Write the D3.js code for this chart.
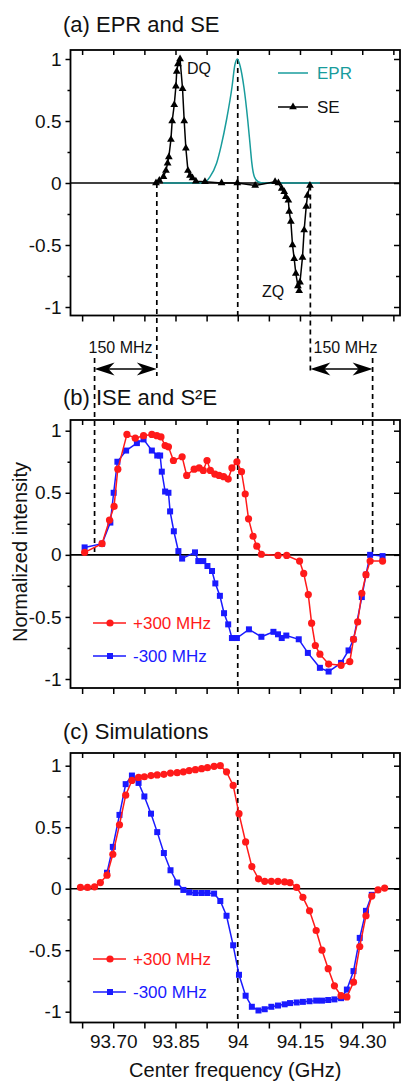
<!DOCTYPE html>
<html>
<head>
<meta charset="utf-8">
<title>EPR, SE, ISE and S2E</title>
<script src="https://d3js.org/d3.v7.min.js"></script>
<style>
  body { margin: 0; background: #fff; }
  text { font-family: "Liberation Sans", Arial, Helvetica, sans-serif; }
</style>
</head>
<body>
<script>

// ---- data, frequency in GHz, intensity normalized ----

// (a) EPR line
var eprFreq = [93.820, 93.900, 93.917, 93.933, 93.949, 93.960, 93.973, 93.986, 93.993, 93.999,
               94.006, 94.015, 94.024, 94.030, 94.034, 94.040, 94.049, 94.059, 94.198];
var eprVal  = [0, 0, 0, 0.05, 0.16, 0.30, 0.51, 0.77, 0.95, 1.0,
               0.94, 0.77, 0.51, 0.30, 0.16, 0.05, 0.01, 0, 0];

// (a) SE, triangles
var seFreq = [93.803, 93.811, 93.821, 93.827, 93.831, 93.834, 93.839, 93.842, 93.847, 93.851,
              93.853, 93.856, 93.861, 93.867, 93.871, 93.875, 93.880, 93.885, 93.891, 93.899,
              93.921, 93.961, 93.999, 94.042, 94.090, 94.098, 94.106, 94.112, 94.116, 94.122,
              94.124, 94.128, 94.132, 94.136, 94.140, 94.145, 94.148, 94.150, 94.156, 94.160,
              94.165, 94.168, 94.174];
var seVal  = [0, 0.02, 0.05, 0.10, 0.16, 0.21, 0.35, 0.50, 0.63, 0.78,
              0.90, 0.96, 1.0, 0.76, 0.50, 0.28, 0.10, 0.06, 0.04, 0.015,
              0.01, 0, 0, -0.02, 0.01, 0, -0.045, -0.07, -0.11, -0.14,
              -0.23, -0.31, -0.50, -0.61, -0.73, -0.83, -0.87, -0.80, -0.60, -0.38,
              -0.19, -0.10, -0.02];

// (b) ISE / S2E, +300 MHz (red)
var bPlusFreq = [93.631, 93.673, 93.691, 93.702, 93.711, 93.733, 93.753, 93.773, 93.793, 93.805,
                 93.815, 93.825, 93.833, 93.845, 93.866, 93.877, 93.895, 93.907, 93.917, 93.926,
                 93.934, 93.945, 93.955, 93.966, 93.977, 93.986, 93.998, 94.009, 94.018, 94.026,
                 94.037, 94.046, 94.057, 94.097, 94.118, 94.149, 94.159, 94.170, 94.178, 94.187,
                 94.198, 94.219, 94.249, 94.270, 94.279, 94.289, 94.299, 94.309, 94.319, 94.349];
var bPlusVal  = [0.02, 0.09, 0.28, 0.39, 0.69, 0.97, 0.94, 0.96, 0.97, 0.96,
                 0.95, 0.88, 0.87, 0.76, 0.79, 0.64, 0.69, 0.70, 0.68, 0.76,
                 0.68, 0.65, 0.64, 0.63, 0.61, 0.70, 0.75, 0.67, 0.49, 0.29,
                 0.15, 0.07, 0.005, -0.005, -0.005, -0.05, -0.15, -0.32, -0.55, -0.73,
                 -0.80, -0.88, -0.89, -0.86, -0.68, -0.54, -0.31, -0.16, -0.05, -0.05];

// (b) -300 MHz (blue)
var bMinusFreq = [93.631, 93.673, 93.693, 93.701, 93.710, 93.731, 93.757, 93.773, 93.793, 93.806,
                  93.813, 93.817, 93.825, 93.833, 93.837, 93.846, 93.857, 93.866, 93.897, 93.905,
                  93.917, 93.927, 93.938, 93.946, 93.957, 93.967, 93.977, 93.986, 93.998, 94.027,
                  94.057, 94.086, 94.097, 94.106, 94.117, 94.147, 94.169, 94.198, 94.219, 94.249,
                  94.267, 94.279, 94.299, 94.309, 94.319, 94.349];
var bMinusVal  = [0.06, 0.09, 0.26, 0.50, 0.75, 0.84, 0.90, 0.93, 0.84, 0.80,
                  0.80, 0.67, 0.51, 0.50, 0.35, 0.19, 0.03, -0.03, 0.02, -0.05,
                  -0.05, -0.09, -0.13, -0.23, -0.33, -0.47, -0.56, -0.67, -0.67, -0.60,
                  -0.66, -0.62, -0.64, -0.67, -0.65, -0.68, -0.79, -0.91, -0.94, -0.87,
                  -0.77, -0.68, -0.34, -0.16, 0.00, -0.01];

// (c) simulations, one frequency grid for both (null = not visible)
var simFreq  = [93.621, 93.638, 93.655, 93.669, 93.685, 93.699, 93.715, 93.730, 93.745, 93.761,
                93.775, 93.791, 93.806, 93.822, 93.838, 93.854, 93.869, 93.883, 93.898, 93.913,
                93.927, 93.943, 93.958, 93.973, 93.989, 94.003, 94.019, 94.034, 94.050, 94.065,
                94.081, 94.097, 94.113, 94.126, 94.142, 94.157, 94.173, 94.189, 94.203, 94.218,
                94.233, 94.249, 94.263, 94.279, 94.294, 94.309, 94.323, 94.338, 94.354];
var simPlus  = [0.01, 0.01, 0.015, 0.05, 0.11, 0.28, 0.52, 0.76, 0.88, 0.905,
                0.91, 0.92, 0.925, 0.93, 0.94, 0.943, 0.95, 0.96, 0.968, 0.976,
                0.984, 0.995, 1.0, 0.95, 0.84, 0.61, 0.38, 0.18, 0.08, 0.06,
                0.06, 0.06, 0.055, 0.05, 0.01, -0.07, -0.18, -0.34, -0.50, -0.65,
                -0.79, -0.87, -0.88, -0.76, -0.47, -0.22, -0.06, -0.01, 0.005];
var simMinus = [null, null, null, null, 0.13, 0.34, 0.60, 0.85, 0.92, 0.86,
                0.75, 0.61, 0.46, 0.29, 0.15, 0.05, -0.01, -0.03, -0.035, -0.035,
                -0.035, -0.04, -0.10, -0.22, -0.46, -0.70, -0.87, -0.96, -0.99, -0.98,
                -0.96, -0.95, -0.94, -0.93, -0.925, -0.92, -0.915, -0.91, -0.91, -0.905,
                -0.90, -0.89, -0.82, -0.67, -0.40, -0.18, -0.05, null, null];

// axis ticks
var xTicks = [93.625, 93.70, 93.775, 93.85, 93.925, 94.0, 94.075, 94.15, 94.225, 94.30, 94.375];
var xTickLabels = {"93.7": "93.70", "93.85": "93.85", "94": "94", "94.15": "94.15", "94.3": "94.30"};
var yMajor = [-1, -0.5, 0, 0.5, 1];
var yMajorLabels = ["-1", "-0.5", "0", "0.5", "1"];
var yMinor = [-0.75, -0.25, 0.25, 0.75];

// dashed markers (GHz): EPR centre, DQ and ZQ positions, 150 MHz away
var centreFreq = 94.0;
var dqFreq = 93.805;
var zqFreq = 94.175;
var shift = 0.15;

var red = "#ff1a1a", blue = "#1a1aff", teal = "#189c9c";

// ---- svg ----
var svg = d3.select("body").append("svg")
    .attr("width", 403)
    .attr("height", 1082);

var x = d3.scaleLinear().domain([93.597, 94.391]).range([70.5, 400]);
var left = x.range()[0], right = x.range()[1];

var panels = {
  a: { top: 50,  bottom: 315.5,  yr: [307, 59],      title: "(a) EPR and SE",    ty: 32 },
  b: { top: 420, bottom: 688,    yr: [679, 430.7],   title: "(b) ISE and S\u00B2E", ty: 405 },
  c: { top: 753, bottom: 1022.5, yr: [1011.7, 765.7], title: "(c) Simulations",   ty: 739 }
};

function styleAxis(g) {
  g.select(".domain").remove();
  g.selectAll("line").attr("stroke", "#000").attr("stroke-width", 1.5);
  g.selectAll("text").attr("font-size", 19).attr("fill", "#111")
    .attr("font-family", "'Liberation Sans', Arial, sans-serif");
}

function drawPanel(p, showXLabels) {
  var y = d3.scaleLinear().domain([-1, 1]).range(p.yr);
  p.y = y;

  // left axis, ticks outward
  svg.append("g").attr("transform", "translate(" + left + ",0)")
    .call(d3.axisLeft(y).tickValues(yMajor).tickSize(5).tickPadding(4)
      .tickFormat(function (d, i) { return yMajorLabels[i]; }))
    .call(styleAxis);
  svg.append("g").attr("transform", "translate(" + left + ",0)")
    .call(d3.axisLeft(y).tickValues(yMinor).tickSize(3).tickFormat(""))
    .call(styleAxis);

  // right side, ticks inward
  svg.append("g").attr("transform", "translate(" + right + ",0)")
    .call(d3.axisLeft(y).tickValues(yMajor).tickSize(6).tickFormat(""))
    .call(styleAxis);
  svg.append("g").attr("transform", "translate(" + right + ",0)")
    .call(d3.axisLeft(y).tickValues(yMinor).tickSize(4).tickFormat(""))
    .call(styleAxis);

  // top ticks inward
  svg.append("g").attr("transform", "translate(0," + p.top + ")")
    .call(d3.axisBottom(x).tickValues(xTicks).tickSize(5).tickFormat(""))
    .call(styleAxis);

  // bottom ticks outward
  svg.append("g").attr("transform", "translate(0," + p.bottom + ")")
    .call(d3.axisBottom(x).tickValues(xTicks).tickSize(6).tickPadding(6)
      .tickFormat(function (d) {
        if (!showXLabels) return "";
        var k = String(+d.toFixed(3));
        return xTickLabels[k] || "";
      }))
    .call(styleAxis);

  // zero line
  svg.append("line")
    .attr("x1", left).attr("x2", right)
    .attr("y1", y(0)).attr("y2", y(0))
    .attr("stroke", "#000").attr("stroke-width", 1.6);

  // frame
  svg.append("rect")
    .attr("x", left).attr("y", p.top)
    .attr("width", right - left).attr("height", p.bottom - p.top)
    .attr("fill", "none").attr("stroke", "#000").attr("stroke-width", 1.8);

  // title
  svg.append("text").attr("x", 63).attr("y", p.ty)
    .attr("font-size", 22).attr("fill", "#111").text(p.title);
}

drawPanel(panels.a, false);
drawPanel(panels.b, false);
drawPanel(panels.c, true);

// ---- dashed guide lines ----
var arrowY = 369;
var dashed = [
  [centreFreq, panels.a.top, panels.a.bottom],
  [centreFreq, panels.b.top, panels.b.bottom],
  [centreFreq, panels.c.top, panels.c.bottom],
  [dqFreq, panels.a.y(0), arrowY + 7],
  [dqFreq - shift, arrowY - 11, panels.b.y(0)],
  [zqFreq, panels.a.y(-0.02), arrowY + 5],
  [zqFreq + shift, arrowY - 11, panels.b.y(0)]
];
svg.append("g").selectAll("line").data(dashed).enter().append("line")
  .attr("x1", function (d) { return x(d[0]); })
  .attr("x2", function (d) { return x(d[0]); })
  .attr("y1", function (d) { return d[1]; })
  .attr("y2", function (d) { return d[2]; })
  .attr("stroke", "#000").attr("stroke-width", 1.7)
  .attr("stroke-dasharray", "5,4");

// ---- 150 MHz double arrows ----
function arrowHead(tx, ty, dir) {
  // dir = -1 points left, +1 points right
  var p = d3.path();
  p.moveTo(tx, ty);
  p.lineTo(tx - dir * 20, ty - 6.5);
  p.lineTo(tx - dir * 14, ty);
  p.lineTo(tx - dir * 20, ty + 6.5);
  p.closePath();
  return p.toString();
}
[[dqFreq - shift, dqFreq], [zqFreq, zqFreq + shift]].forEach(function (r) {
  var x1 = x(r[0]), x2 = x(r[1]);
  svg.append("line").attr("x1", x1 + 10).attr("x2", x2 - 10)
    .attr("y1", arrowY).attr("y2", arrowY)
    .attr("stroke", "#000").attr("stroke-width", 1.5);
  svg.append("path").attr("d", arrowHead(x1, arrowY, -1)).attr("fill", "#000");
  svg.append("path").attr("d", arrowHead(x2, arrowY, 1)).attr("fill", "#000");
});
svg.append("text").attr("x", 120.5).attr("y", 352.5).attr("text-anchor", "middle")
  .attr("font-size", 16).attr("fill", "#111").text("150 MHz");
svg.append("text").attr("x", 345.5).attr("y", 352.5).attr("text-anchor", "middle")
  .attr("font-size", 16).attr("fill", "#111").text("150 MHz");

// ---- series helpers ----
function drawLine(y, fx, fy, color, curve) {
  var pts = d3.zip(fx, fy).filter(function (d) { return d[1] !== null; });
  var line = d3.line()
    .x(function (d) { return x(d[0]); })
    .y(function (d) { return y(d[1]); });
  if (curve) line.curve(curve);
  svg.append("path").datum(pts).attr("d", line)
    .attr("fill", "none").attr("stroke", color).attr("stroke-width", 1.5);
  return pts;
}

function circles(pts, y, color) {
  svg.append("g").selectAll("circle").data(pts).enter().append("circle")
    .attr("cx", function (d) { return x(d[0]); })
    .attr("cy", function (d) { return y(d[1]); })
    .attr("r", 3.6).attr("fill", color);
}

function squares(pts, y, color) {
  svg.append("g").selectAll("rect").data(pts).enter().append("rect")
    .attr("x", function (d) { return x(d[0]) - 3; })
    .attr("y", function (d) { return y(d[1]) - 3; })
    .attr("width", 6).attr("height", 6).attr("fill", color);
}

var tri = d3.symbol().type(d3.symbolTriangle).size(26);
function triangles(pts, y) {
  svg.append("g").selectAll("path").data(pts).enter().append("path")
    .attr("d", tri)
    .attr("transform", function (d) { return "translate(" + x(d[0]) + "," + y(d[1]) + ")"; })
    .attr("fill", "#000");
}

// ---- (a) ----
var ya = panels.a.y;
drawLine(ya, eprFreq, eprVal, teal, d3.curveMonotoneX);
triangles(drawLine(ya, seFreq, seVal, "#000"), ya);

svg.append("text").attr("x", 187).attr("y", 74).attr("font-size", 16).attr("fill", "#111").text("DQ");
svg.append("text").attr("x", 262).attr("y", 297).attr("font-size", 16).attr("fill", "#111").text("ZQ");

// legend (a)
svg.append("line").attr("x1", 278).attr("x2", 308).attr("y1", 73).attr("y2", 73)
  .attr("stroke", teal).attr("stroke-width", 1.5);
svg.append("text").attr("x", 317).attr("y", 79).attr("font-size", 17).attr("fill", teal).text("EPR");
svg.append("line").attr("x1", 278).attr("x2", 308).attr("y1", 107).attr("y2", 107)
  .attr("stroke", "#000").attr("stroke-width", 1.5);
svg.append("path").attr("d", tri).attr("transform", "translate(293,107)").attr("fill", "#000");
svg.append("text").attr("x", 317).attr("y", 113).attr("font-size", 17).attr("fill", "#111").text("SE");

// ---- (b) and (c) ----
function legendPair(yPlus, yMinus) {
  svg.append("line").attr("x1", 93).attr("x2", 126).attr("y1", yPlus).attr("y2", yPlus)
    .attr("stroke", red).attr("stroke-width", 1.5);
  svg.append("circle").attr("cx", 110).attr("cy", yPlus).attr("r", 3.6).attr("fill", red);
  svg.append("text").attr("x", 133).attr("y", yPlus + 6).attr("font-size", 17)
    .attr("fill", red).text("+300 MHz");
  svg.append("line").attr("x1", 93).attr("x2", 126).attr("y1", yMinus).attr("y2", yMinus)
    .attr("stroke", blue).attr("stroke-width", 1.5);
  svg.append("rect").attr("x", 107).attr("y", yMinus - 3).attr("width", 6).attr("height", 6)
    .attr("fill", blue);
  svg.append("text").attr("x", 133).attr("y", yMinus + 6).attr("font-size", 17)
    .attr("fill", blue).text("-300 MHz");
}

var yb = panels.b.y;
squares(drawLine(yb, bMinusFreq, bMinusVal, blue), yb, blue);
circles(drawLine(yb, bPlusFreq, bPlusVal, red), yb, red);
legendPair(623, 656);

var yc = panels.c.y;
squares(drawLine(yc, simFreq, simMinus, blue), yc, blue);
circles(drawLine(yc, simFreq, simPlus, red), yc, red);
legendPair(959, 992);

// ---- axis titles ----
svg.append("text")
  .attr("transform", "translate(27,552) rotate(-90)")
  .attr("text-anchor", "middle").attr("font-size", 20).attr("fill", "#111")
  .text("Normalized intensity");
svg.append("text")
  .attr("x", (left + right) / 2).attr("y", 1077)
  .attr("text-anchor", "middle").attr("font-size", 20).attr("fill", "#111")
  .text("Center frequency (GHz)");

</script>
</body>
</html>
